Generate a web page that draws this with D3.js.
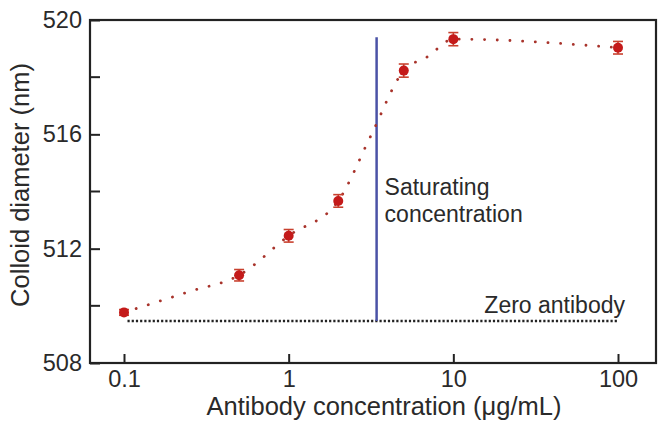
<!DOCTYPE html>
<html>
<head>
<meta charset="utf-8">
<script src="https://cdn.jsdelivr.net/npm/d3@7"></script>
<style>
  body { margin: 0; background: #fff; }
  text { font-family: "Liberation Sans", Arial, sans-serif; fill: #2a2a2a; }
</style>
</head>
<body>
<div id="viz-container"></div>
<script>
// measured points
let conc = [0.1, 0.5, 1, 2, 5, 10, 100];
let diameter = [509.77, 511.07, 512.45, 513.67, 518.23, 519.33, 519.03];
let errs = [0.1, 0.2, 0.22, 0.22, 0.23, 0.23, 0.22];

// dotted fit curve
let fitConc = [0.1, 0.25, 0.5, 1, 2, 3.15, 5, 7, 10, 100];
let fitDiam = [509.77, 510.5, 511.07, 512.45, 513.67, 515.94, 518.23, 518.72, 519.33, 519.03];

let satConc = 3.42;
let satTop = 519.4;
let zeroLevel = 509.47;
let zeroFrom = 0.105, zeroTo = 100;

let yTicks = [508, 512, 516, 520];
let yMinor = [510, 514, 518];
let xTicks = [0.1, 1, 10, 100];

let W = 663, H = 422;
let frame = {left: 90, right: 656, top: 20, bottom: 363};

let viz = d3.select("#viz-container")
    .append("svg")
        .attr("width", W)
        .attr("height", H);

let x = d3.scaleLog().domain([0.1, 100]).range([124, 618]);
let y = d3.scaleLinear().domain([508, 520]).range([363, 20]);

// frame box
viz.append("rect")
    .attr("x", frame.left).attr("y", frame.top)
    .attr("width", frame.right - frame.left)
    .attr("height", frame.bottom - frame.top)
    .attr("fill", "none").attr("stroke", "#222").attr("stroke-width", 2.2);

// y axis (ticks inward)
let yAxis = d3.axisLeft(y).tickValues(yTicks).tickSize(-10).tickPadding(8)
    .tickFormat(d3.format("d"));
let gy = viz.append("g").attr("transform", "translate(" + frame.left + ",0)").call(yAxis);
gy.select(".domain").remove();
gy.selectAll("line").attr("stroke", "#222").attr("stroke-width", 2);
gy.selectAll("text").attr("font-size", 23.5).attr("fill", "#2a2a2a")
    .attr("font-family", "Liberation Sans, Arial, sans-serif");

viz.append("g").selectAll("line").data(yMinor).enter().append("line")
    .attr("x1", frame.left).attr("x2", frame.left + 10)
    .attr("y1", d => y(d)).attr("y2", d => y(d))
    .attr("stroke", "#222").attr("stroke-width", 2);

// x axis
let xAxis = d3.axisBottom(x).tickValues(xTicks).tickSize(-9).tickPadding(7)
    .tickFormat(d => d < 1 ? d3.format(".1f")(d) : d3.format("d")(d));
let gx = viz.append("g").attr("transform", "translate(0," + frame.bottom + ")").call(xAxis);
gx.select(".domain").remove();
gx.selectAll("line").attr("stroke", "#222").attr("stroke-width", 2);
gx.selectAll("text").attr("font-size", 23.5).attr("fill", "#2a2a2a")
    .attr("font-family", "Liberation Sans, Arial, sans-serif");

// axis titles
viz.append("text")
    .text("Antibody concentration (\u03bcg/mL)")
    .attr("x", 384).attr("y", 415)
    .attr("text-anchor", "middle").attr("font-size", 25.5);

viz.append("text")
    .text("Colloid diameter (nm)")
    .attr("transform", "translate(29,185) rotate(-90)")
    .attr("text-anchor", "middle").attr("font-size", 25.5);

// zero antibody line
viz.append("line")
    .attr("x1", x(zeroFrom)).attr("x2", x(zeroTo))
    .attr("y1", y(zeroLevel)).attr("y2", y(zeroLevel))
    .attr("stroke", "#222").attr("stroke-width", 2.4)
    .attr("stroke-dasharray", "2.2,2");

viz.append("text")
    .text("Zero antibody")
    .attr("x", 625).attr("y", 313)
    .attr("text-anchor", "end").attr("font-size", 23);

// saturating concentration
viz.append("line")
    .attr("x1", x(satConc)).attr("x2", x(satConc))
    .attr("y1", y(satTop)).attr("y2", y(zeroLevel))
    .attr("stroke", "#4a52a6").attr("stroke-width", 2.5);

viz.append("text").text("Saturating")
    .attr("x", x(satConc) + 8).attr("y", 195).attr("font-size", 23);
viz.append("text").text("concentration")
    .attr("x", x(satConc) + 8).attr("y", 222).attr("font-size", 23);

// fit curve
let fitLine = d3.line()
    .x(d => x(d[0]))
    .y(d => y(d[1]))
    .curve(d3.curveMonotoneX);

viz.append("path")
    .attr("d", fitLine(d3.zip(fitConc, fitDiam)))
    .attr("fill", "none")
    .attr("stroke", "#a8332b")
    .attr("stroke-width", 2.8)
    .attr("stroke-linecap", "round")
    .attr("stroke-dasharray", "0.1,12.6");

// points with error bars
let pointData = conc.map((c, i) => ({c: c, d: diameter[i], e: errs[i]}));

let pts = viz.selectAll(".pt").data(pointData).enter().append("g")
    .attr("class", "pt")
    .attr("transform", p => "translate(" + x(p.c) + "," + y(p.d) + ")");

pts.append("line")
    .attr("x1", 0).attr("x2", 0)
    .attr("y1", p => y(p.d + p.e) - y(p.d))
    .attr("y2", p => y(p.d - p.e) - y(p.d))
    .attr("stroke", "#c8402e").attr("stroke-width", 1.6);

pts.append("line")
    .attr("x1", -5).attr("x2", 5)
    .attr("y1", p => y(p.d + p.e) - y(p.d))
    .attr("y2", p => y(p.d + p.e) - y(p.d))
    .attr("stroke", "#c8402e").attr("stroke-width", 1.6);

pts.append("line")
    .attr("x1", -5).attr("x2", 5)
    .attr("y1", p => y(p.d - p.e) - y(p.d))
    .attr("y2", p => y(p.d - p.e) - y(p.d))
    .attr("stroke", "#c8402e").attr("stroke-width", 1.6);

pts.append("circle")
    .attr("r", 5)
    .attr("fill", "#c41a1a");
</script>
</body>
</html>
